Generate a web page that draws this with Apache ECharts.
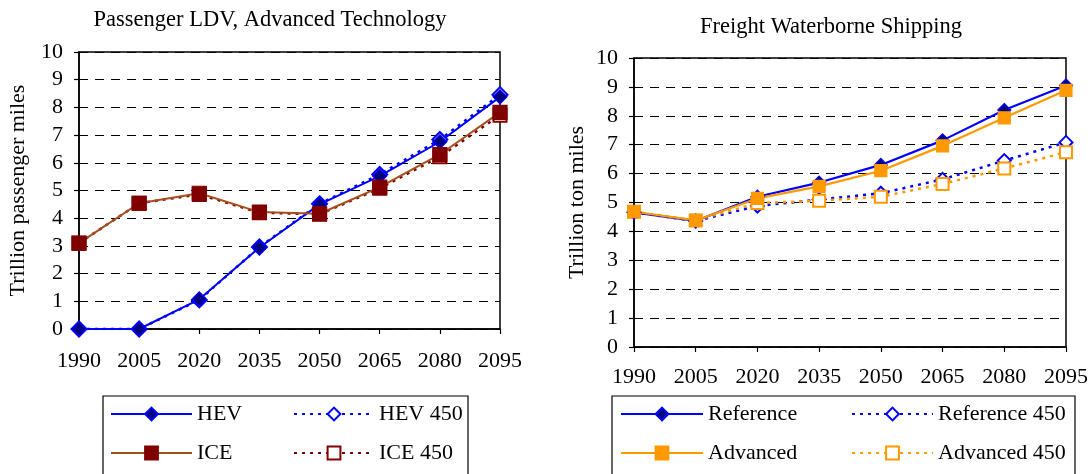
<!DOCTYPE html>
<html>
<head>
<meta charset="utf-8">
<script src="https://cdn.jsdelivr.net/npm/echarts@6/dist/echarts.min.js"></script>
<style>
  html, body { margin: 0; padding: 0; background: #fff; }
  #chart { width: 1091px; height: 474px; }
</style>
</head>
<body>
<div id="chart"></div>
<script>
// Shared x categories
const years = ['1990', '2005', '2020', '2035', '2050', '2065', '2080', '2095'];

// Passenger LDV, advanced technology (trillion passenger miles)
const hev    = [0, 0, 1.07, 2.94, 4.50, 5.52, 6.76, 8.38];
const hev450 = [0, 0, 1.05, 2.96, 4.52, 5.58, 6.84, 8.46];
const ice    = [3.10, 4.54, 4.90, 4.22, 4.16, 5.12, 6.30, 7.82];
const ice450 = [3.10, 4.54, 4.86, 4.20, 4.14, 5.08, 6.22, 7.72];

// Freight waterborne shipping (trillion ton miles)
const reference    = [4.66, 4.36, 5.20, 5.69, 6.30, 7.15, 8.20, 9.05];
const advanced     = [4.68, 4.38, 5.14, 5.56, 6.10, 6.96, 7.93, 8.88];
const reference450 = [4.66, 4.36, 4.88, 5.10, 5.32, 5.80, 6.45, 7.08];
const advanced450  = [4.68, 4.38, 4.98, 5.06, 5.20, 5.64, 6.18, 6.74];

const FONT = "'Liberation Serif', 'Times New Roman', serif";
const BLUE = '#0000FF', NAVY = '#000080', BROWN = '#A5501E', MAROON = '#800000', ORANGE = '#FF9900';

function xAxis(gridIndex, margin) {
  return {
    type: 'category', gridIndex, data: years, boundaryGap: false,
    axisLine: { lineStyle: { color: '#000', width: 1.5 } },
    axisTick: { show: true, length: 5, alignWithLabel: true, lineStyle: { color: '#000', width: 1.2 } },
    axisLabel: { color: '#000', fontFamily: FONT, fontSize: 22, margin },
    splitLine: { show: false }
  };
}
function yAxis(gridIndex, name, nameGap) {
  return {
    type: 'value', gridIndex, min: 0, max: 10, interval: 1,
    name, nameLocation: 'middle', nameGap,
    nameTextStyle: { color: '#000', fontFamily: FONT, fontSize: 22 },
    axisLine: { show: true, lineStyle: { color: '#000', width: 1.5 } },
    axisTick: { show: true, length: 5, lineStyle: { color: '#000', width: 1.2 } },
    axisLabel: { color: '#000', fontFamily: FONT, fontSize: 22, margin: 16 },
    splitLine: { show: true, lineStyle: { color: '#000', width: 1, type: [9, 7] } }
  };
}
function solid(name, data, axis, lineColor, fill, border, symbol, size, width) {
  return {
    name, type: 'line', data, xAxisIndex: axis, yAxisIndex: axis,
    symbol, symbolSize: size,
    lineStyle: { color: lineColor, width },
    itemStyle: { color: fill, borderColor: border, borderWidth: 1.2 },
    emphasis: { disabled: true }
  };
}
function dotted(name, data, axis, color, symbol, size) {
  return {
    name, type: 'line', data, xAxisIndex: axis, yAxisIndex: axis,
    symbol, symbolSize: size,
    lineStyle: { color, width: 2.5, type: [3, 5] },
    itemStyle: { color: '#fff', borderColor: color, borderWidth: 2 },
    emphasis: { disabled: true }
  };
}
function legendItem(name, left, top, itemWidth) {
  return {
    data: [name], left, top, padding: 0, itemWidth, itemHeight: 16,
    selectedMode: false,
    textStyle: { color: '#000', fontFamily: FONT, fontSize: 22 }
  };
}

const chart = echarts.init(document.getElementById('chart'), null, { renderer: 'canvas' });
chart.setOption({
  animation: false,
  backgroundColor: '#fff',
  title: [
    { text: 'Passenger LDV, Advanced Technology', left: 265, top: 4, textAlign: 'center',
      textStyle: { color: '#000', fontFamily: FONT, fontSize: 22.5, fontWeight: 'normal' } },
    { text: 'Freight Waterborne Shipping', left: 826, top: 11, textAlign: 'center',
      textStyle: { color: '#000', fontFamily: FONT, fontSize: 22.5, fontWeight: 'normal' } }
  ],
  grid: [
    { left: 79, top: 52, width: 421, height: 277, show: true, borderColor: '#000', borderWidth: 1.5 },
    { left: 634, top: 58, width: 432, height: 289, show: true, borderColor: '#000', borderWidth: 1.5 }
  ],
  xAxis: [xAxis(0, 21), xAxis(1, 19)],
  yAxis: [yAxis(0, 'Trillion passenger miles', 50), yAxis(1, 'Trillion ton miles', 46)],
  legend: [
    legendItem('HEV', 110, 403, 81),
    legendItem('HEV 450', 293, 403, 80),
    legendItem('ICE', 110, 442, 81),
    legendItem('ICE 450', 293, 442, 80),
    legendItem('Reference', 620, 403, 82),
    legendItem('Reference 450', 851, 403, 81),
    legendItem('Advanced', 620, 442, 82),
    legendItem('Advanced 450', 851, 442, 81)
  ],
  graphic: [
    { type: 'rect', shape: { x: 103, y: 396, width: 365, height: 100 },
      style: { fill: 'none', stroke: '#000', lineWidth: 1.2 }, silent: true },
    { type: 'rect', shape: { x: 612, y: 396, width: 463, height: 100 },
      style: { fill: 'none', stroke: '#000', lineWidth: 1.2 }, silent: true }
  ],
  series: [
    dotted('HEV 450', hev450, 0, BLUE, 'diamond', 15),
    dotted('ICE 450', ice450, 0, MAROON, 'rect', 13),
    solid('HEV', hev, 0, BLUE, NAVY, BLUE, 'diamond', 14, 2),
    solid('ICE', ice, 0, BROWN, MAROON, MAROON, 'rect', 14, 2),

    dotted('Reference 450', reference450, 1, BLUE, 'diamond', 13),
    dotted('Advanced 450', advanced450, 1, ORANGE, 'rect', 12),
    solid('Reference', reference, 1, BLUE, NAVY, BLUE, 'diamond', 13, 2.2),
    solid('Advanced', advanced, 1, ORANGE, ORANGE, ORANGE, 'rect', 12, 2.2)
  ]
});
</script>
</body>
</html>
